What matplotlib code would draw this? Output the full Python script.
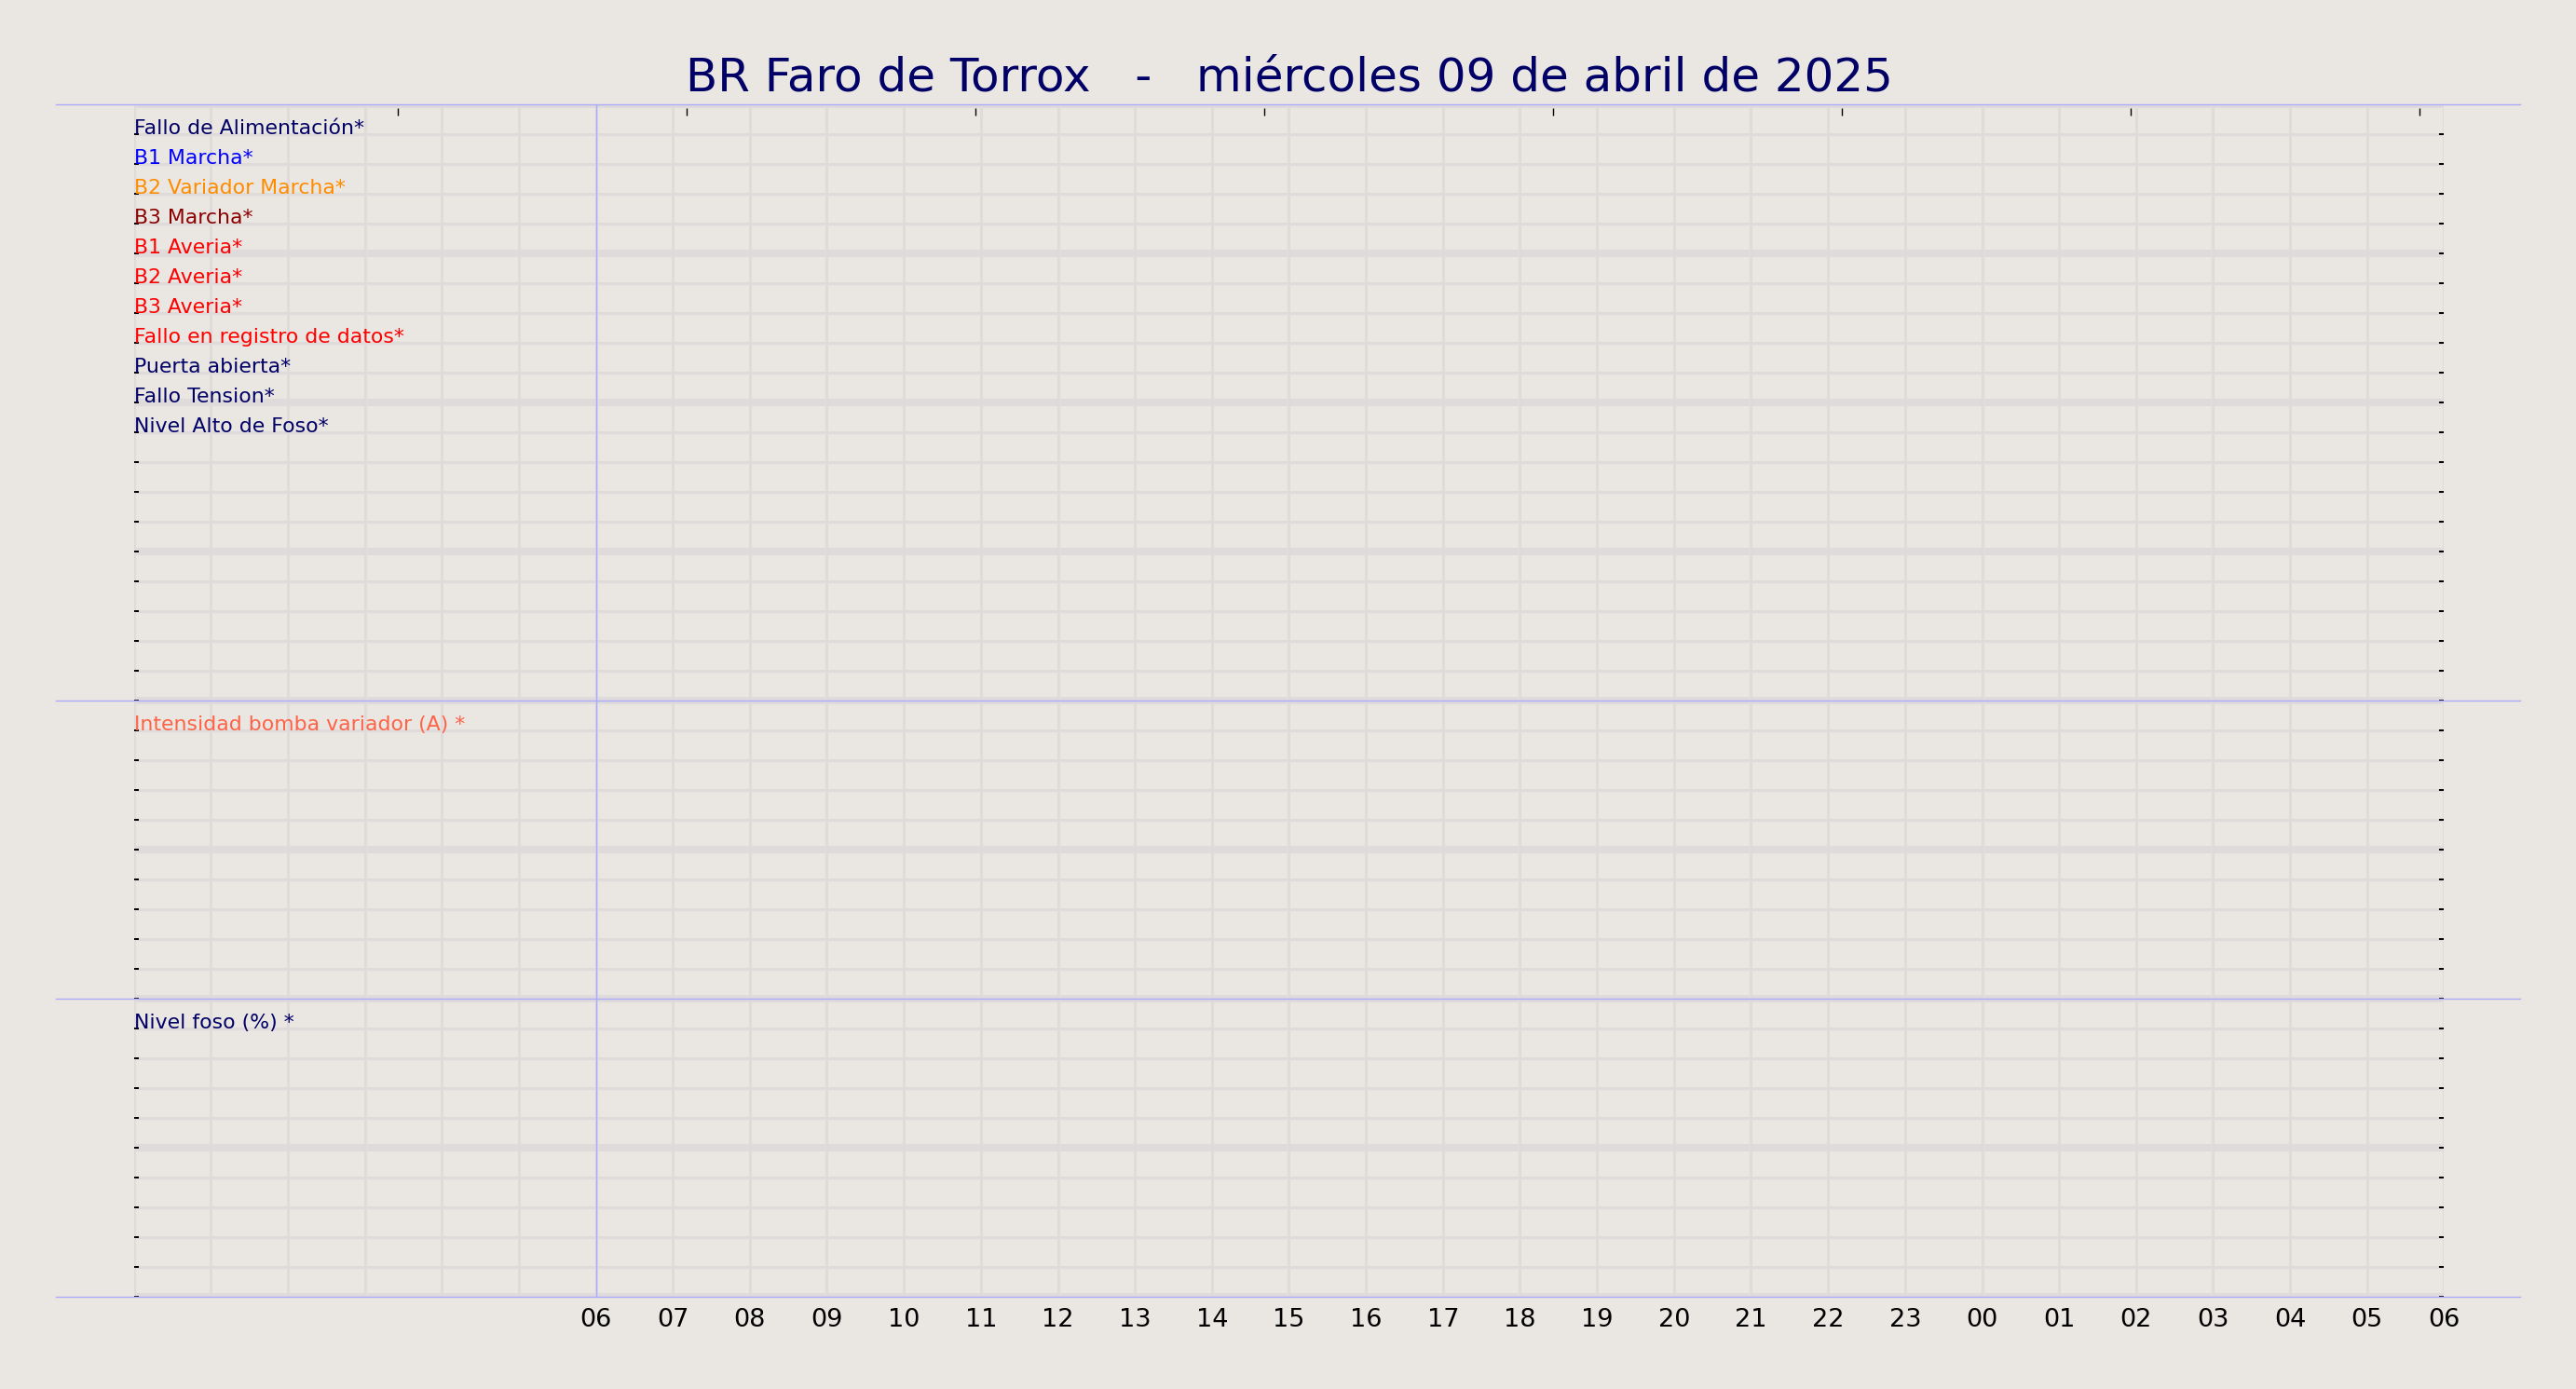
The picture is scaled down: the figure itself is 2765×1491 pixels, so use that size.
import matplotlib
matplotlib.use("Agg")
import matplotlib.pyplot as plt
from matplotlib.lines import Line2D
from matplotlib.ticker import MultipleLocator

# ---------------- data ----------------
title = "BR Faro de Torrox   -   miércoles 09 de abril de 2025"

digital_labels = [
    "Fallo de Alimentación*", "B1 Marcha*", "B2 Variador Marcha*", "B3 Marcha*",
    "B1 Averia*", "B2 Averia*", "B3 Averia*", "Fallo en registro de datos*",
    "Puerta abierta*", "Fallo Tension*", "Nivel Alto de Foso*",
]
digital_colors = [
    "#000066", "#0000ff", "#ff8c00", "#8b0000",
    "#ff0000", "#ff0000", "#ff0000", "#ff0000",
    "#000066", "#000066", "#000066",
]
analog_labels = ["Intensidad bomba variador (A) *", "Nivel foso (%) *"]
analog_colors = ["#ff6347", "#000066"]

hour_labels = ["06", "07", "08", "09", "10", "11", "12", "13", "14", "15", "16", "17",
               "18", "19", "20", "21", "22", "23", "00", "01", "02", "03", "04", "05", "06"]
x_start, x_end = 0, 30          # hours shown (00:00 day 1 .. 06:00 day 2)
first_label_hour = 6
top_ticks = [3.43, 7.18, 10.93, 14.68, 18.43, 22.18, 25.93, 29.68]
panel_ymax = [20, 10, 10]

# ---------------- style ----------------
BG = "#eae6e1"
GRID = "#e0dbdb"
BLUE = "#aaaaff"
NAVY = "#000066"
EDGE_TICK = "#a0a0b0"

W, H = 2765, 1491
fig = plt.figure(figsize=(W / 100, H / 100), dpi=100, facecolor=BG)

left_px, right_px = 143.5, 2623.5
tops_px = [112, 752, 1072]
heights_px = [640, 320, 320]

axes = []
for top, hgt, ymax in zip(tops_px, heights_px, panel_ymax):
    ax = fig.add_axes([left_px / W, 1 - (top + hgt) / H, (right_px - left_px) / W, hgt / H])
    ax.set_facecolor(BG)
    ax.set_xlim(x_start, x_end)
    ax.set_ylim(0, ymax)
    for s in ax.spines.values():
        s.set_visible(False)
    ax.xaxis.set_major_locator(MultipleLocator(1))
    ax.yaxis.set_major_locator(MultipleLocator(5))
    ax.yaxis.set_minor_locator(MultipleLocator(1))
    ax.grid(axis="x", which="major", color=GRID, lw=2.2)
    ax.grid(axis="y", which="major", color=GRID, lw=5.8)
    ax.grid(axis="y", which="minor", color=GRID, lw=2.2)
    ax.set_axisbelow(True)
    ax.tick_params(axis="y", which="both", direction="in", length=3.6, width=1.4,
                   left=True, right=True, labelleft=False, labelright=False, colors="black")
    ax.tick_params(axis="x", which="both", length=0, labelbottom=False)
    ax.axvline(first_label_hour, color=BLUE, lw=1, zorder=3)
    # tick marks at the panel edges: bottom one faint, top one hidden
    locs = ax.yaxis.get_majorticklocs()
    for loc, tk in zip(locs, ax.yaxis.get_major_ticks(len(locs))):
        if loc >= ymax:
            tk.tick1line.set_visible(False)
            tk.tick2line.set_visible(False)
        elif loc <= 0:
            tk.tick1line.set_color(EDGE_TICK)
            tk.tick2line.set_color(EDGE_TICK)
    axes.append(ax)

ax1, ax2, ax3 = axes

# row labels in the digital panel
for i, (lab, col) in enumerate(zip(digital_labels, digital_colors)):
    ax1.text(x_start, panel_ymax[0] - 1 - i, lab, color=col, fontsize=15.8,
             ha="left", va="baseline", zorder=5)

for ax, lab, col, ymax in zip([ax2, ax3], analog_labels, analog_colors, panel_ymax[1:]):
    ax.text(x_start, ymax - 1, lab, color=col, fontsize=15.8, ha="left", va="baseline", zorder=5)

# bottom hour labels
n_blank = first_label_hour - x_start
ax3.set_xticks(list(range(x_start, x_end + 1)), labels=[""] * n_blank + hour_labels)
ax3.tick_params(axis="x", length=0, labelbottom=True, labelsize=19.5, pad=9, colors="black")

# small ticks at the top of the first panel
sec = ax1.secondary_xaxis(1 - 4 / 640)
sec.set_xticks(top_ticks)
sec.tick_params(direction="in", length=5.8, width=1, labeltop=False, colors="black")
for s in sec.spines.values():
    s.set_visible(False)

# separating blue lines
for y in [112, 752, 1072, 1392]:
    fig.add_artist(Line2D([60 / W, 2705 / W], [1 - y / H, 1 - y / H],
                          transform=fig.transFigure, color=BLUE, lw=1, zorder=10))

fig.text((left_px + right_px) / 2 / W, 1 - 97 / H, title, ha="center", va="baseline",
         fontsize=36, color=NAVY)

fig.savefig("out.png", dpi=100, facecolor=BG)
